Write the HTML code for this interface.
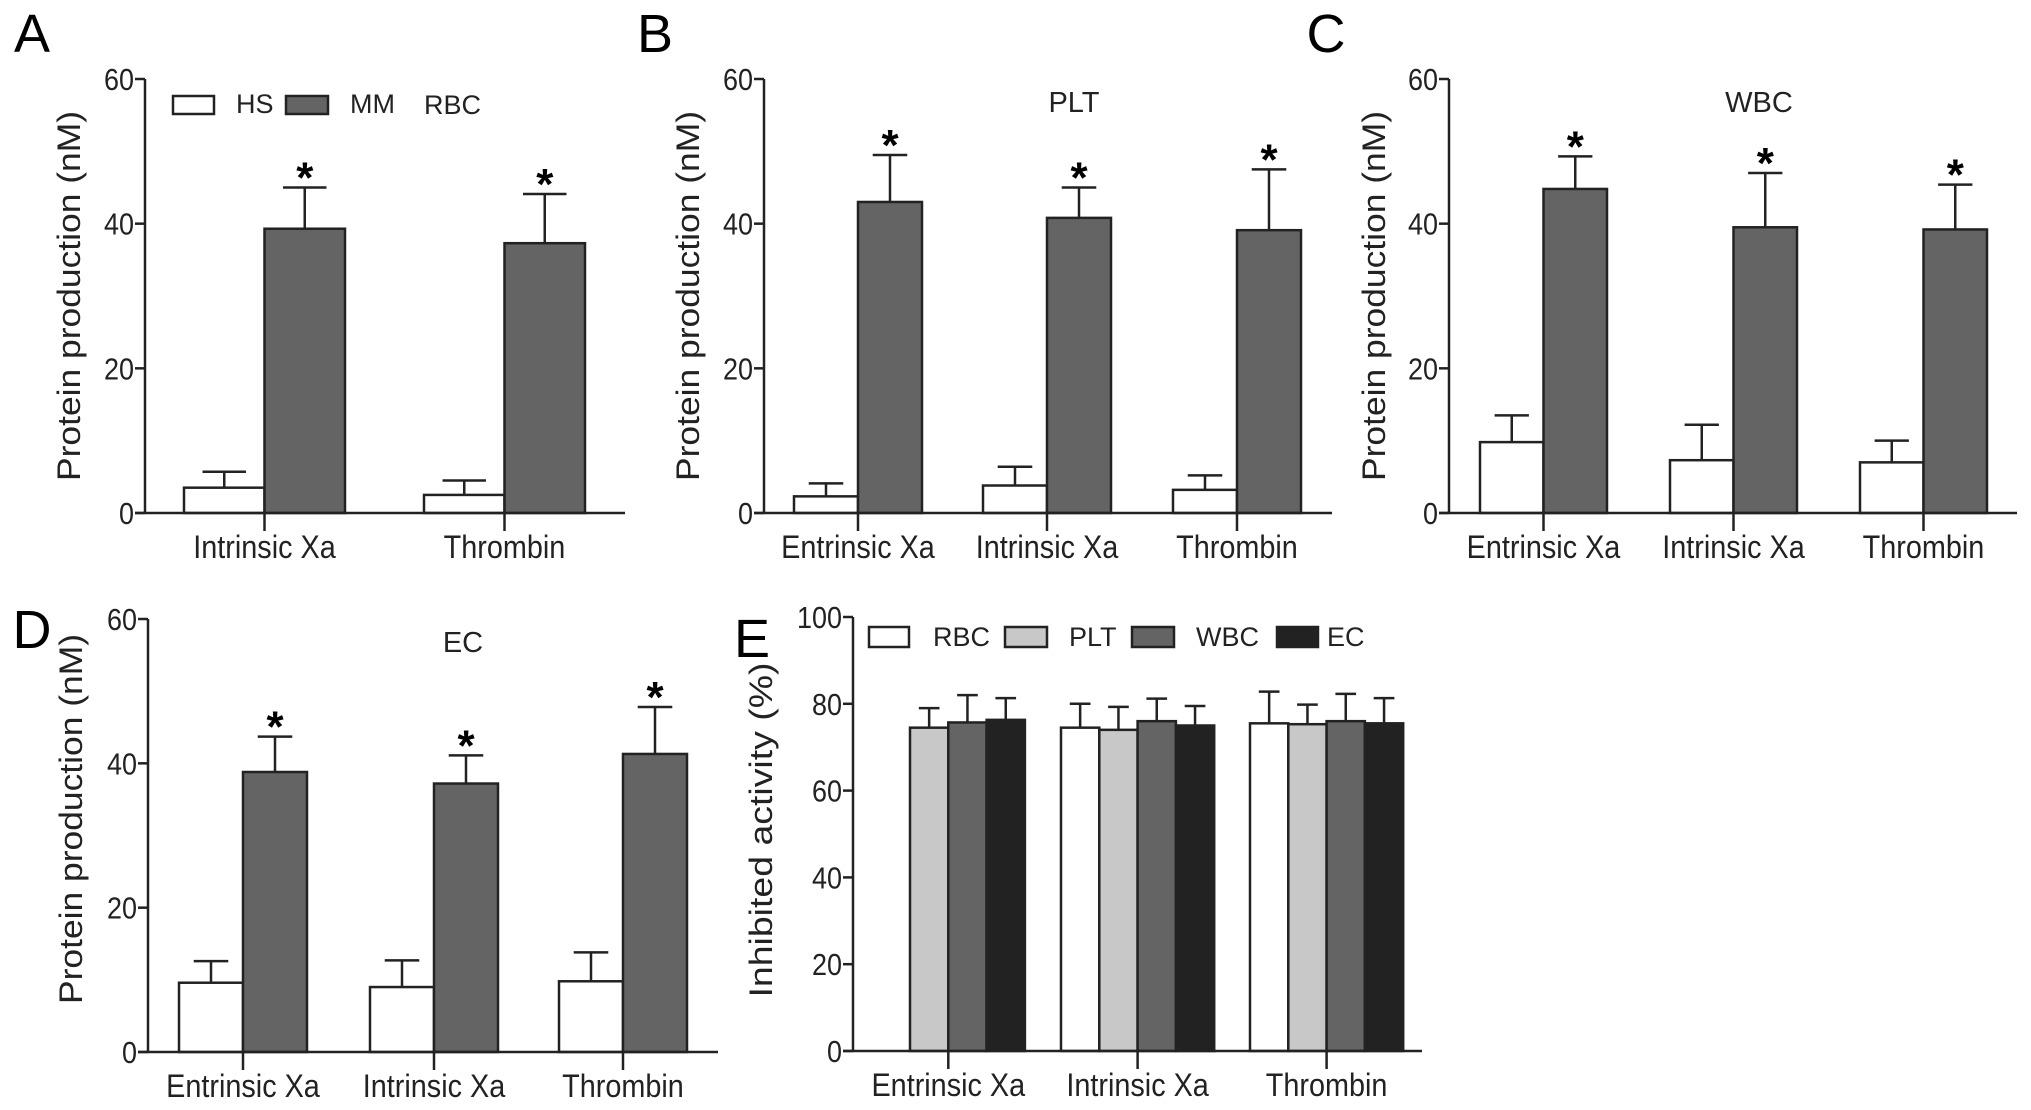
<!DOCTYPE html>
<html><head><meta charset="utf-8"><style>
html,body{margin:0;padding:0;background:#fff;}
svg{display:block;font-family:"Liberation Sans",Arial,sans-serif;}
</style></head><body>
<svg id="fig" width="2031" height="1110" viewBox="0 0 2031 1110"></svg>
<script>
// ---- data ----
const catsA = ["Intrinsic Xa","Thrombin"];
const catsBCD = ["Entrinsic Xa","Intrinsic Xa","Thrombin"];
const hsA = [3.5,2.5];   const hsErrA = [2.2,2.0];
const mmA = [39.3,37.3]; const mmErrA = [5.7,6.8];
const hsB = [2.3,3.8,3.2]; const hsErrB = [1.8,2.6,2.0];
const mmB = [43.0,40.8,39.1]; const mmErrB = [6.5,4.2,8.4];
const hsC = [9.8,7.3,7.0]; const hsErrC = [3.7,4.9,3.0];
const mmC = [44.8,39.5,39.2]; const mmErrC = [4.5,7.5,6.2];
const hsD = [9.6,9.0,9.8]; const hsErrD = [3.0,3.7,4.0];
const mmD = [38.8,37.2,41.3]; const mmErrD = [4.9,3.9,6.5];
const yTicksP = [0,20,40,60];
const catsE = ["Entrinsic Xa","Intrinsic Xa","Thrombin"];
const seriesE = ["RBC","PLT","WBC","EC"];
const rbcE = [null,74.5,75.5]; const rbcErrE = [0,5.5,7.3];
const pltE = [74.5,74.0,75.3]; const pltErrE = [4.5,5.3,4.5];
const wbcE = [75.7,76.0,76.0]; const wbcErrE = [6.3,5.2,6.3];
const ecE = [76.3,75.0,75.5];  const ecErrE = [5.0,4.5,5.8];
const yTicksE = [0,20,40,60,80,100];

const NS="http://www.w3.org/2000/svg";
const svg=document.getElementById('fig');
function mk(tag,attrs,parent,text){const e=document.createElementNS(NS,tag);for(const k in attrs)e.setAttribute(k,attrs[k]);if(text!==undefined)e.textContent=text;(parent||svg).appendChild(e);return e;}

function panel(o){
  const g=mk('g',{});
  
  
  const y=v=>o.y0-(v/o.ymax)*(o.y0-o.ytop);
  const L=mk('text',{x:o.lx,y:o.ly,'font-size':54,'text-anchor':'middle'},g,o.letter);
  
  
  o.series.forEach((s,si)=>{
    s.vals.forEach((v,ci)=>{
      if(v===null)return;
      const x0=o.groupX[ci]+si*o.bw;
      const top=y(v), etop=y(v+s.err[ci]);
      const ln=mk('line',{x1:x0+o.bw/2,x2:x0+o.bw/2,y1:top,y2:etop,stroke:'#222','stroke-width':2.5},g);
      
      
      const cap=mk('line',{x1:x0+o.bw/2-o.bw*0.27,x2:x0+o.bw/2+o.bw*0.27,y1:etop,y2:etop,stroke:'#222','stroke-width':2.5},g);
      
      
      const r=mk('rect',{x:x0,y:top,width:o.bw,height:o.y0-top,fill:s.color,stroke:'#222','stroke-width':2.5},g);
      
      
      if(s.star){
        const st=mk('text',{x:x0+o.bw/2,y:etop+5,'font-size':44,'font-weight':'bold','text-anchor':'middle'},g,'*');
        
        
      }
    });
  });
  const ya=mk('line',{x1:o.ax,x2:o.ax,y1:o.ytop,y2:o.y0,stroke:'#222','stroke-width':2.5},g);
  
  
  const xa=mk('line',{x1:o.ax-10,x2:o.xend,y1:o.y0,y2:o.y0,stroke:'#222','stroke-width':2.5},g);
  
  
  o.ticks.forEach(t=>{
    const tl=mk('line',{x1:o.ax-10,x2:o.ax,y1:y(t),y2:y(t),stroke:'#222','stroke-width':2.5},g);
    
    
    const tt=mk('text',{x:o.ax-11,y:y(t)+11,'font-size':31,'text-anchor':'end',fill:'#222',textLength:String(t).length*15,lengthAdjust:'spacingAndGlyphs'},g,String(t));
    
    
  });
  o.cats.forEach((c,ci)=>{
    const cx=o.groupX[ci]+o.tickOff*o.bw;
    const tk=mk('line',{x1:cx,x2:cx,y1:o.y0,y2:o.y0+18,stroke:'#222','stroke-width':2.5},g);
    
    
    const ct=mk('text',{x:0,y:0,'font-size':32,'text-anchor':'middle',fill:'#222',transform:`translate(${cx},${o.y0+45}) scale(0.9,1)`},g,c);
    
    
  });
  const yt=mk('text',{x:0,y:0,'font-size':32,'text-anchor':'middle',fill:'#222',transform:`translate(${o.tx},${o.ty}) rotate(-90)`,textLength:o.tlen,lengthAdjust:'spacingAndGlyphs'},g,o.ytitle);
  
  
  if(o.title){
    const ti=mk('text',{x:o.titleX,y:o.ytop+33,'font-size':29,'text-anchor':'middle',fill:'#222'},g,o.title);
    
    
  }
  return g;
}
const W='#ffffff', G='#646464';
panel({name:'panel-a',letter:'A',lx:32,ly:52,ax:145,y0:513,ytop:79,ymax:60,xend:625,bw:80.5,tickOff:1,
  groupX:[184,424],cats:catsA,ticks:yTicksP,ytitle:'Protein production (nM)',tlen:370,tx:80,ty:296,
  series:[{key:'hs',vals:hsA,err:hsErrA,color:W},{key:'mm',vals:mmA,err:mmErrA,color:G,star:true}]});
panel({name:'panel-b',letter:'B',lx:655,ly:52,ax:764,y0:513,ytop:79,ymax:60,xend:1332,bw:64,tickOff:1,
  groupX:[794,983,1173],cats:catsBCD,ticks:yTicksP,ytitle:'Protein production (nM)',tlen:370,tx:699,ty:296,title:'PLT',titleX:1074,
  series:[{key:'hs',vals:hsB,err:hsErrB,color:W},{key:'mm',vals:mmB,err:mmErrB,color:G,star:true}]});
panel({name:'panel-c',letter:'C',lx:1326,ly:52,ax:1449,y0:513,ytop:79,ymax:60,xend:2017,bw:63.5,tickOff:1,
  groupX:[1480,1670,1860],cats:catsBCD,ticks:yTicksP,ytitle:'Protein production (nM)',tlen:370,tx:1385,ty:296,title:'WBC',titleX:1759,
  series:[{key:'hs',vals:hsC,err:hsErrC,color:W},{key:'mm',vals:mmC,err:mmErrC,color:G,star:true}]});
panel({name:'panel-d',letter:'D',lx:32,ly:648,ax:148,y0:1052,ytop:619,ymax:60,xend:718,bw:64,tickOff:1,
  groupX:[179,370,559],cats:catsBCD,ticks:yTicksP,ytitle:'Protein production (nM)',tlen:370,tx:82,ty:819,title:'EC',titleX:463,
  series:[{key:'hs',vals:hsD,err:hsErrD,color:W},{key:'mm',vals:mmD,err:mmErrD,color:G,star:true}]});
panel({name:'panel-e',letter:'E',lx:752,ly:657,ax:853,y0:1051,ytop:617,ymax:100,xend:1422,bw:38.3,tickOff:2,
  groupX:[871.7,1061,1250],cats:catsE,ticks:yTicksE,ytitle:'Inhibited activity (%)',tlen:335,tx:772,ty:830,
  series:[{key:'rbc',vals:rbcE,err:rbcErrE,color:W},{key:'plt',vals:pltE,err:pltErrE,color:'#c8c8c8'},
          {key:'wbc',vals:wbcE,err:wbcErrE,color:G},{key:'ec',vals:ecE,err:ecErrE,color:'#222222'}]});

function legendEntry(name,bx,by,bw,bh,fill,tx,label,fs){
  const g=mk('g',{});
  
  
  const r=mk('rect',{x:bx,y:by,width:bw,height:bh,fill:fill,stroke:'#222','stroke-width':2.5},g);
  
  
  const t=mk('text',{x:tx,y:by+bh-1,'font-size':fs,fill:'#222'},g,label);
  
  
}
legendEntry('legend-entry-hs',173,96,41,18,W,236,'HS',27);
legendEntry('legend-entry-mm',286,96,42,18,G,350,'MM',27);
const rbcLab=mk('text',{x:424,y:114,'font-size':27,fill:'#222'},svg,'RBC');


legendEntry('legend-entry-rbc',869,627,40,20,W,933,'RBC',27);
legendEntry('legend-entry-plt',1005,627,42,20,'#c8c8c8',1069,'PLT',27);
legendEntry('legend-entry-wbc',1132,627,42,20,G,1196,'WBC',27);
legendEntry('legend-entry-ec',1277,627,41,20,'#222222',1327,'EC',27);
</script>
</body></html>
